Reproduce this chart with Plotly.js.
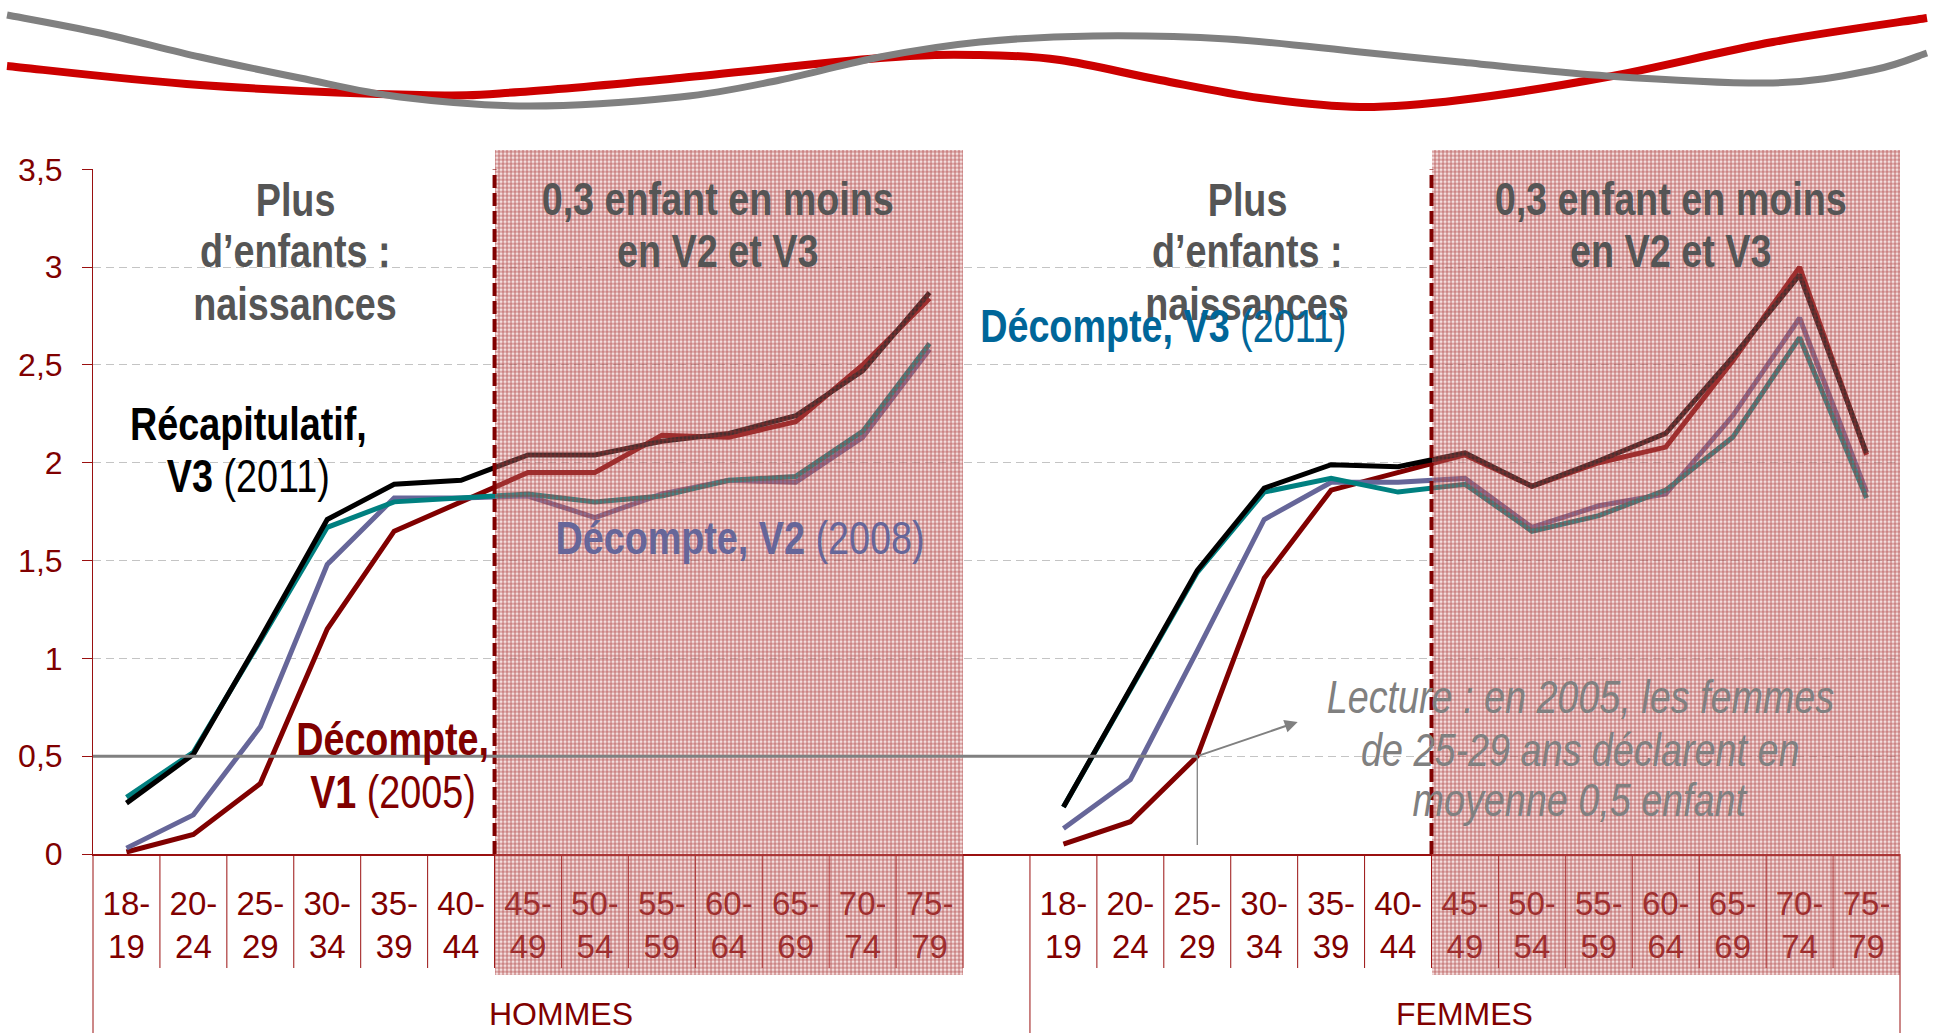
<!DOCTYPE html>
<html>
<head>
<meta charset="utf-8">
<script src="https://cdn.plot.ly/plotly-3.0.1.min.js"></script>
<style>
  html, body { margin: 0; padding: 0; background: #ffffff; }
  #chart { width: 1933px; height: 1033px; }
</style>
</head>
<body>
<div id="chart"></div>
<script>
// ---------------- DATA ----------------
const ageGroups = ['18-19', '20-24', '25-29', '30-34', '35-39', '40-44', '45-49',
                   '50-54', '55-59', '60-64', '65-69', '70-74', '75-79'];
const sexGroups = ['HOMMES', 'FEMMES'];

// Nombre moyen d'enfants déclarés
const recapV3Hommes = [0.26, 0.51, 1.10, 1.71, 1.89, 1.91, 2.04, 2.04, 2.11, 2.15, 2.24, 2.47, 2.87];
const decV3Hommes   = [0.29, 0.52, 1.09, 1.67, 1.80, 1.82, 1.84, 1.80, 1.83, 1.91, 1.93, 2.16, 2.61];
const decV2Hommes   = [0.03, 0.20, 0.65, 1.48, 1.82, 1.82, 1.83, 1.72, 1.84, 1.91, 1.90, 2.13, 2.58];
const decV1Hommes   = [0.01, 0.10, 0.36, 1.15, 1.65, 1.80, 1.95, 1.95, 2.14, 2.13, 2.21, 2.50, 2.84];

const recapV3Femmes = [0.24, 0.85, 1.45, 1.87, 1.99, 1.98, 2.05, 1.88, 2.01, 2.15, 2.54, 2.96, 2.05];
const decV3Femmes   = [0.24, 0.84, 1.44, 1.85, 1.92, 1.85, 1.89, 1.65, 1.73, 1.86, 2.13, 2.64, 1.82];
const decV2Femmes   = [0.13, 0.38, 1.04, 1.71, 1.90, 1.90, 1.92, 1.67, 1.78, 1.84, 2.24, 2.74, 1.85];
const decV1Femmes   = [0.05, 0.165, 0.50, 1.41, 1.86, 1.95, 2.04, 1.88, 2.00, 2.08, 2.52, 3.00, 2.04];

const yTickValues = [0, 0.5, 1, 1.5, 2, 2.5, 3, 3.5];
const highlightFirstAge = '45-49';   // zone "0,3 enfant en moins"
const readingAge = '25-29';          // exemple de lecture (femmes, 2005)

// ---------------- LAYOUT CONSTANTS ----------------
const W = 1933, H = 1033;
const PLOT_L = 93, PLOT_R = 1900, PLOT_TOP = 169.3, PLOT_BOT = 854;
const Y_MAX = 3.5;
const unitPx = (PLOT_BOT - PLOT_TOP) / Y_MAX;
const paperY = py => (H - py) / H;
const valY = py => (PLOT_BOT - py) / unitPx;
const HATCH_BOTTOM = -0.62, HATCH_TOP = 3.6;
const NARROW_SCALE = 0.82;   // Arial Narrow ≈ 82 % of Arial

const DARKRED = '#800000';
const AXISRED = '#9a1010';
const REG = '"Liberation Sans", Arial, sans-serif';

// ---------------- X POSITIONS ----------------
const nAges = ageGroups.length;
const xH = ageGroups.map((_, i) => i);
const xF = ageGroups.map((_, i) => i + nAges + 1);
const xAll = [...xH, nAges, ...xF];
const nCats = xAll.length;
const xRange = [-0.5, nCats - 0.5];
const joinY = (h, f) => [...h, null, ...f];

const series = [
  {name: 'Décompte, V1 (2005)', h: decV1Hommes, f: decV1Femmes, color: '#800000'},
  {name: 'Décompte, V2 (2008)', h: decV2Hommes, f: decV2Femmes, color: '#666699'},
  {name: 'Décompte, V3 (2011)', h: decV3Hommes, f: decV3Femmes, color: '#008080'},
  {name: 'Récapitulatif, V3 (2011)', h: recapV3Hommes, f: recapV3Femmes, color: '#000000'}
];

const traces = series.map(s => ({
  type: 'scatter', mode: 'lines', name: s.name,
  x: xAll, y: joinY(s.h, s.f), connectgaps: false,
  line: {color: s.color, width: 5},
  hoverinfo: 'skip', showlegend: false, xaxis: 'x', yaxis: 'y'
}));

// hatched zones (drawn over the lines, as in the original)
const hiStart = ageGroups.indexOf(highlightFirstAge);
const hiLen = nAges - hiStart;
const hatchX = [xH[hiStart] - 0.5 + hiLen / 2, xF[hiStart] - 0.5 + hiLen / 2];
traces.push({
  type: 'bar', xaxis: 'x2', yaxis: 'y2',
  x: hatchX, y: hatchX.map(() => HATCH_TOP - HATCH_BOTTOM), base: hatchX.map(() => HATCH_BOTTOM),
  width: hatchX.map(() => hiLen),
  marker: {
    color: 'rgba(220,150,150,0.30)', line: {width: 0},
    pattern: {shape: '+', size: 4, solidity: 0.4, fillmode: 'replace',
              fgcolor: 'rgb(160,40,40)', fgopacity: 0.7, bgcolor: 'rgba(220,150,150,0.32)'}
  },
  hoverinfo: 'skip', showlegend: false
});

// ---------------- SHAPES ----------------
const shapes = [];
// separators between age categories (short)
for (let k = 0; k < nCats - 1; k++) {
  const b = k + 0.5;
  if (b === nAges + 0.5) continue; // group divider handled below
  shapes.push({type: 'line', xref: 'x', yref: 'paper', x0: b, x1: b,
               y0: paperY(PLOT_BOT), y1: paperY(968), line: {color: AXISRED, width: 1}, layer: 'below'});
}
// group dividers (long)
shapes.push({type: 'line', xref: 'paper', yref: 'paper', x0: 0, x1: 0, y0: paperY(PLOT_BOT), y1: 0,
             line: {color: AXISRED, width: 1}, layer: 'below'});
shapes.push({type: 'line', xref: 'x', yref: 'paper', x0: nAges + 0.5, x1: nAges + 0.5, y0: paperY(PLOT_BOT), y1: 0,
             line: {color: AXISRED, width: 1}, layer: 'below'});
shapes.push({type: 'line', xref: 'paper', yref: 'paper', x0: 1, x1: 1, y0: paperY(PLOT_BOT), y1: 0,
             line: {color: AXISRED, width: 1}, layer: 'below'});
// dashed separations before 45-49
[xH[hiStart] - 0.5, xF[hiStart] - 0.5].forEach(b => {
  shapes.push({type: 'line', xref: 'x', yref: 'y', x0: b, x1: b, y0: 0, y1: Y_MAX,
               line: {color: DARKRED, width: 4, dash: '13px,5px'}, layer: 'above'});
});
// reading example: femmes 25-29 in 2005
const readX = xF[ageGroups.indexOf(readingAge)];
const readVal = decV1Femmes[ageGroups.indexOf(readingAge)];
shapes.push({type: 'line', xref: 'x', yref: 'y', x0: xRange[0], x1: readX, y0: readVal, y1: readVal,
             line: {color: '#808080', width: 3}, layer: 'above'});
shapes.push({type: 'line', xref: 'x', yref: 'y', x0: readX, x1: readX, y0: readVal, y1: valY(845),
             line: {color: '#808080', width: 1.3}, layer: 'above'});

// decorative header swooshes
const grayWave = [[7,15],[100,33],[200,57],[300,78],[400,97],[530,106],[680,97],[780,80],[880,57],
                  [980,42],[1093,36],[1227,39],[1360,52],[1460,62],[1607,76],[1773,83],[1873,70],[1927,53]];
const redWave = [[7,66],[200,85],[420,95],[520,92],[680,78],[880,58],[980,55],[1060,60],[1160,80],
                 [1260,98],[1360,107],[1460,100],[1607,77],[1773,42],[1927,18]];
function smoothPath(pts) {
  const P = pts.map(([x, y]) => [(x - PLOT_L) / (PLOT_R - PLOT_L), (H - y) / H]);
  const f = v => v.toFixed(5);
  let d = 'M' + f(P[0][0]) + ',' + f(P[0][1]);
  for (let i = 0; i < P.length - 1; i++) {
    const p0 = P[i - 1] || P[i], p1 = P[i], p2 = P[i + 1], p3 = P[i + 2] || P[i + 1];
    const c1 = [p1[0] + (p2[0] - p0[0]) / 6, p1[1] + (p2[1] - p0[1]) / 6];
    const c2 = [p2[0] - (p3[0] - p1[0]) / 6, p2[1] - (p3[1] - p1[1]) / 6];
    d += ' C' + f(c1[0]) + ',' + f(c1[1]) + ' ' + f(c2[0]) + ',' + f(c2[1]) + ' ' + f(p2[0]) + ',' + f(p2[1]);
  }
  return d;
}
shapes.push({type: 'path', xref: 'paper', yref: 'paper', path: smoothPath(redWave),
             line: {color: '#cc0000', width: 8}, fillcolor: 'rgba(0,0,0,0)', layer: 'above'});
shapes.push({type: 'path', xref: 'paper', yref: 'paper', path: smoothPath(grayWave),
             line: {color: '#808080', width: 7}, fillcolor: 'rgba(0,0,0,0)', layer: 'above'});

// ---------------- ANNOTATIONS ----------------
const BIG = 46;
function label(x, py, text, color, extra) {
  return Object.assign({
    xref: 'x', yref: 'y', x: x, y: valY(py), text: text, showarrow: false,
    xanchor: 'center', yanchor: 'middle',
    font: {family: REG, size: BIG, color: color}
  }, extra || {});
}
const GREY = '#555555';
const annotations = [
  label(2.525, 200, '<b>Plus</b>', GREY),
  label(2.525, 251, '<b>d’enfants :</b>', GREY),
  label(2.525, 304, '<b>naissances</b>', GREY),
  label(16.75, 200, '<b>Plus</b>', GREY),
  label(16.75, 251, '<b>d’enfants :</b>', GREY),
  label(16.75, 304, '<b>naissances</b>', GREY),
  label(8.83, 199, '<b>0,3 enfant en moins</b>', GREY),
  label(8.83, 251, '<b>en V2 et V3</b>', GREY),
  label(23.07, 199, '<b>0,3 enfant en moins</b>', GREY),
  label(23.07, 251, '<b>en V2 et V3</b>', GREY),
  label(15.49, 326, '<b>Décompte, V3</b> (2011)', '#006699'),
  label(1.83, 424, '<b>Récapitulatif,</b>', '#000000'),
  label(1.83, 476, '<b>V3</b> (2011)', '#000000'),
  label(9.17, 538, '<b>Décompte, V2</b> (2008)', '#666699'),
  label(3.98, 739, '<b>Décompte,</b>', DARKRED),
  label(3.98, 792, '<b>V1</b> (2005)', DARKRED),
  label(21.72, 697, '<i>Lecture : en 2005, les femmes</i>', '#808080'),
  label(21.72, 750, '<i>de 25-29 ans déclarent en</i>', '#808080'),
  label(21.72, 800, '<i>moyenne 0,5 enfant</i>', '#808080'),
  {xref: 'x', yref: 'y', axref: 'x', ayref: 'y', x: readX + 1.5, y: readVal + 0.175,
   ax: readX, ay: readVal, text: '', showarrow: true, arrowhead: 2, arrowsize: 1.3,
   arrowwidth: 2, arrowcolor: '#808080', standoff: 0, startstandoff: 0},
  {xref: 'x', yref: 'paper', x: (nAges - 1) / 2 + 0.5, y: paperY(1014), text: sexGroups[0],
   showarrow: false, xanchor: 'center', yanchor: 'middle', font: {family: REG, size: 32, color: DARKRED}},
  {xref: 'x', yref: 'paper', x: xF[0] + (nAges - 1) / 2, y: paperY(1014), text: sexGroups[1],
   showarrow: false, xanchor: 'center', yanchor: 'middle', font: {family: REG, size: 32, color: DARKRED}}
];

// ---------------- LAYOUT ----------------
const layout = {
  width: W, height: H,
  margin: {l: PLOT_L, r: W - PLOT_R, t: 0, b: 0, pad: 0},
  paper_bgcolor: '#ffffff', plot_bgcolor: 'rgba(0,0,0,0)',
  separators: ', ',
  showlegend: false,
  xaxis: {
    domain: [0, 1], anchor: 'y', range: xRange, fixedrange: true,
    tickmode: 'array', tickvals: [...xH, ...xF],
    ticktext: [...ageGroups, ...ageGroups].map(a => a.replace('-', '-<br>')),
    tickfont: {family: REG, size: 33, color: DARKRED},
    ticks: '', ticklabelstandoff: 20,
    showgrid: false, zeroline: false,
    showline: true, linecolor: AXISRED, linewidth: 1.5
  },
  yaxis: {
    domain: [paperY(PLOT_BOT), paperY(PLOT_TOP)], anchor: 'x', range: [0, Y_MAX], fixedrange: true,
    tickmode: 'array', tickvals: yTickValues,
    ticks: 'outside', ticklen: 10, tickcolor: AXISRED, tickwidth: 1,
    tickfont: {family: REG, size: 32, color: DARKRED}, ticklabelstandoff: 13,
    showline: true, linecolor: AXISRED, linewidth: 1,
    showgrid: true, gridcolor: '#c4c4c4', gridwidth: 1, griddash: '8px,5px',
    zeroline: false
  },
  xaxis2: {domain: [0, 1], anchor: 'y2', range: xRange, visible: false, fixedrange: true},
  yaxis2: {domain: [paperY(PLOT_BOT + (-HATCH_BOTTOM) * unitPx), paperY(PLOT_TOP - (HATCH_TOP - Y_MAX) * unitPx)],
           anchor: 'x2', range: [HATCH_BOTTOM, HATCH_TOP], visible: false, fixedrange: true},
  bargap: 0,
  shapes: shapes,
  annotations: annotations
};

// compress the large annotation texts horizontally to imitate Arial Narrow
function narrowTexts(gd) {
  gd.querySelectorAll('.annotation-text').forEach(t => {
    const fs = parseFloat(t.style.fontSize || '0');
    if (fs >= BIG - 0.5 && !t.getAttribute('textLength')) {
      const w = t.getComputedTextLength();
      if (w > 0) {
        t.setAttribute('textLength', (w * NARROW_SCALE).toFixed(1));
        t.setAttribute('lengthAdjust', 'spacingAndGlyphs');
      }
    }
  });
}

Plotly.newPlot('chart', traces, layout, {displayModeBar: false, staticPlot: true})
  .then(gd => narrowTexts(gd));
</script>
</body>
</html>
